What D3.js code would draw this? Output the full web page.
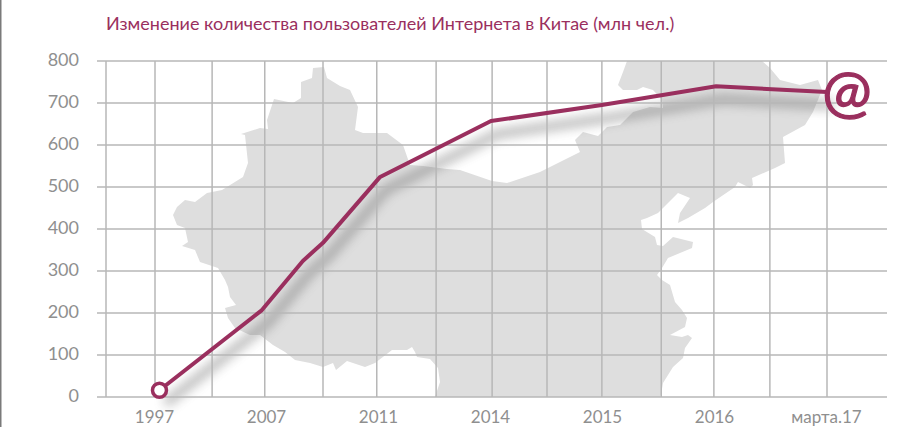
<!DOCTYPE html>
<html lang="ru"><head><meta charset="utf-8">
<style>html,body{margin:0;padding:0;background:#fff;overflow:hidden}svg{display:block}text{font-family:Lato,"Open Sans",sans-serif}</style>
<script src="https://cdn.jsdelivr.net/npm/d3@7/dist/d3.min.js"></script>
</head><body><svg id="c" width="919" height="427"></svg>
<script>
const chartTitle = "Изменение количества пользователей Интернета в Китае (млн чел.)";
const categories = ["1997","2007","2011","2014","2015","2016","марта.17"];
const yTicks = [0,100,200,300,400,500,600,700,800];
const lineIndex = [0.04,0.955,1.32,1.5,2.01,3,3.99,5.01,6];
const lineValue = [16,207,324,367,524,657,695,740,726];
const gridIndex = [-0.4375,0,0.51,0.98,1.5,1.98,2.51,3.01,3.5,3.99,4.52,4.99,5.49,6];
// China silhouette, in map units
const chinaOutline = [[177,207],[185,200],[195,202],[207,193],[222,190],[243,177],[248,163],[245,135],[241,134],[260,128],[268,129],[267,120],[274,99],[293,103],[301,98],[301,82],[312,78],[313,68],[324,67],[327,78],[340,86],[350,90],[358,107],[355,130],[363,133],[387,133],[403,145],[410,165],[423,166],[447,169],[460,170],[492,181],[507,183],[540,172],[570,157],[580,152],[575,140],[583,132],[598,136],[607,127],[620,125],[633,112],[650,107],[663,108],[662,100],[653,90],[643,87],[637,90],[623,90],[618,85],[623,72],[627,61],[762,61],[770,68],[780,80],[800,85],[818,80],[822,90],[813,112],[805,125],[783,137],[785,163],[775,168],[752,178],[753,185],[750,188],[738,182],[735,187],[713,202],[705,208],[688,218],[678,223],[680,213],[690,198],[678,193],[658,213],[647,218],[641,220],[642,229],[655,237],[657,245],[663,246],[673,237],[693,242],[692,248],[668,258],[662,268],[657,275],[662,280],[670,285],[675,302],[682,310],[687,318],[685,327],[670,335],[682,337],[688,335],[692,338],[685,348],[683,358],[673,367],[663,383],[661,395],[660,397],[435,397],[440,382],[438,368],[430,359],[417,357],[415,352],[412,347],[407,350],[392,350],[375,363],[365,367],[347,361],[336,370],[333,363],[323,367],[310,363],[295,360],[285,352],[273,345],[260,335],[250,335],[235,328],[228,318],[225,308],[236,305],[230,297],[228,287],[225,280],[218,268],[200,262],[195,250],[182,246],[188,242],[185,228],[177,225],[173,215]];

const W=919,H=427, plum="#9a2f5e", gray="#8f8f8f", gridC="#b7b7b7";
const svg=d3.select("#c");
const x=d3.scaleLinear().domain([0,6]).range([155,827]);
const y=d3.scaleLinear().domain([0,800]).range([397,61]);
const mapScale=d3.scaleLinear().domain([0,W]).range([0,W]);

const defs=svg.append("defs");
const f=defs.append("filter").attr("id","sh").attr("filterUnits","userSpaceOnUse")
  .attr("x",0).attr("y",0).attr("width",W).attr("height",H);
f.append("feGaussianBlur").attr("stdDeviation",5.5);

svg.append("rect").attr("x",0).attr("y",0).attr("width",1.5).attr("height",H).attr("fill","#7a7a7a");

svg.append("path").attr("d",d3.line().x(d=>mapScale(d[0])).y(d=>mapScale(d[1]))(chinaOutline)+"Z").attr("fill","#dedede");

const pts=lineIndex.map((d,i)=>[d,lineValue[i]]);
const line=d3.line().x(d=>x(d[0])).y(d=>y(d[1]));

svg.append("path").attr("d",line(pts)).attr("fill","none").attr("stroke","#555")
  .attr("stroke-width",9).attr("opacity",.42).attr("transform","translate(6,13)").attr("filter","url(#sh)");

svg.append("g").selectAll("line").data(yTicks).join("line")
  .attr("x1",97).attr("x2",887).attr("y1",d=>y(d)).attr("y2",d=>y(d))
  .attr("stroke",gridC).attr("stroke-width",1.5);
svg.append("g").selectAll("line").data(gridIndex).join("line")
  .attr("x1",d=>x(d)).attr("x2",d=>x(d)).attr("y1",y(800)).attr("y2",y(0))
  .attr("stroke",gridC).attr("stroke-width",1.5);

const yAxis=d3.axisLeft(y).tickValues(yTicks).tickSize(0).tickPadding(0);
const ga=svg.append("g").attr("transform","translate(79,-1.5)").call(yAxis);
ga.select(".domain").remove();
ga.selectAll("text").attr("fill",gray).style("font-size","18px").style("font-family","Lato,sans-serif");

const xp=d3.scalePoint().domain(categories).range([155,827]);
const xAxis=d3.axisBottom(xp).tickSize(0).tickPadding(0);
const gb=svg.append("g").attr("transform","translate(-1,411)").call(xAxis);
gb.select(".domain").remove();
gb.selectAll("text").attr("fill",gray).style("font-size","17px").style("font-family","Lato,sans-serif");

svg.append("path").attr("d",line(pts)).attr("fill","none").attr("stroke",plum).attr("stroke-width",4).attr("stroke-linejoin","round");

svg.append("circle").attr("cx",x(lineIndex[0])).attr("cy",y(lineValue[0])).attr("r",7).attr("fill","#fff").attr("stroke",plum).attr("stroke-width",3.5);

svg.append("text").attr("x",106).attr("y",30).attr("fill",plum).style("font-size","18px").text(chartTitle);

svg.append("text").attr("x",x(6)+20).attr("y",y(lineValue[8])+20).attr("text-anchor","middle")
  .attr("fill",plum).attr("stroke",plum).attr("stroke-width",1.3).style("font-size","59px").text("@");
</script></body></html>
